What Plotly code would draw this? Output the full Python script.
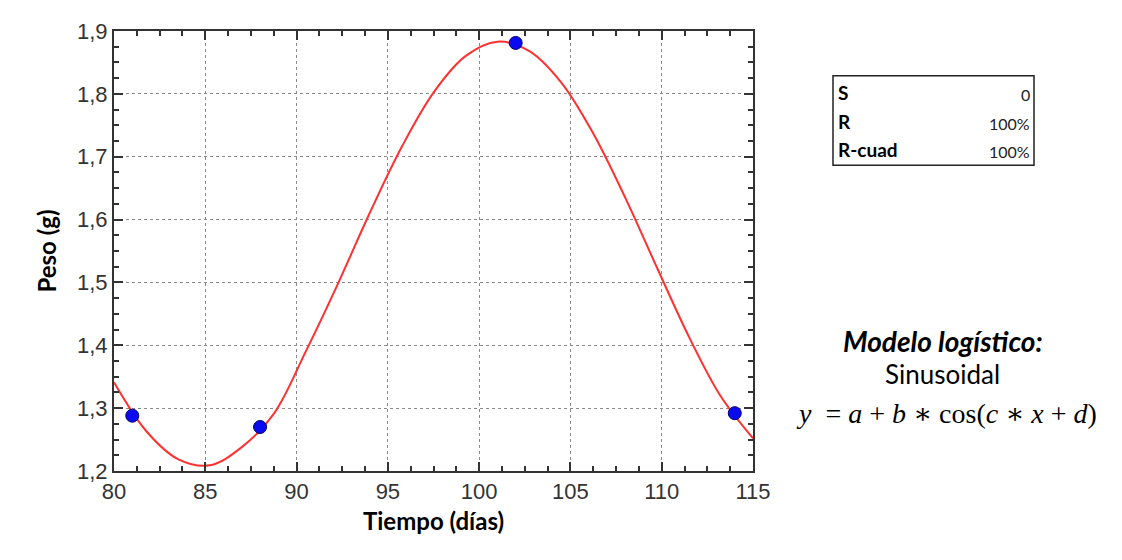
import plotly.graph_objects as go

# Observed data points
dias = [81, 88, 102, 114]
peso = [1.288, 1.270, 1.881, 1.292]

# Fitted sinusoidal curve
curva_x = [80, 81.75, 83.5, 85.25, 87, 88.75, 90.5, 92.25, 94, 95.75, 97.5,
           99.25, 101, 102.75, 104.5, 106.25, 108, 109.75, 111.5, 113.25, 115]
curva_y = [1.341, 1.264, 1.219, 1.209, 1.238, 1.291, 1.390, 1.497, 1.610, 1.715, 1.802,
           1.860, 1.883, 1.868, 1.818, 1.737, 1.635, 1.523, 1.413, 1.318, 1.252]

x_ticks = [80, 85, 90, 95, 100, 105, 110, 115]
y_ticks = [1.2, 1.3, 1.4, 1.5, 1.6, 1.7, 1.8, 1.9]

tabla_etiquetas = ["S", "R", "R-cuad"]
tabla_valores = ["0", "100%", "100%"]

OFF = 8  # body margin of the page
L, R, T, B = 114, 753, 19, 471
W, H = 1122 - OFF, 560 - OFF

def px(xp):
    return (xp - L) / (R - L)

def py(yp):
    return (B - yp) / (B - T)

fig = go.Figure()
fig.add_trace(go.Scatter(x=curva_x, y=curva_y, mode="lines",
                         line=dict(color="#ff3030", width=2, shape="spline", smoothing=1.0), hoverinfo="skip"))
fig.add_trace(go.Scatter(x=dias, y=peso, mode="markers",
                         marker=dict(color="#0a0aee", size=13, line=dict(color="#00006e", width=1))))

axis_common = dict(
    showline=True, linecolor="#333333", linewidth=2, mirror="ticks",
    ticks="inside", ticklen=9, tickwidth=1.5, tickcolor="#333333",
    showgrid=True, gridcolor="#8a8a8a", griddash="dot", gridwidth=1,
    zeroline=False,
    tickfont=dict(family="Liberation Sans Narrow, Liberation Sans, Arial", size=22, color="#333333"),
)

title_font = dict(family="Lato, Open Sans", size=24, color="#000")
fig.update_xaxes(range=[80, 115], tickvals=x_ticks, **axis_common,
                 minor=dict(ticks="inside", ticklen=5, dtick=1.25, tick0=80, tickcolor="#333333", showgrid=False),
                 title=dict(text="<b>Tiempo (días)</b>", font=title_font, standoff=10))
fig.update_yaxes(range=[1.2, 1.9], tickvals=y_ticks, tickformat=".1f", **axis_common,
                 minor=dict(ticks="inside", ticklen=5, dtick=0.025, tick0=1.2, tickcolor="#333333", showgrid=False),
                 title=dict(text="<b>Peso (g)</b>", font=title_font, standoff=14))

# Table box
fig.add_shape(type="rect", xref="paper", yref="paper", x0=px(833), x1=px(1034), y0=py(157), y1=py(65),
              line=dict(color="#222", width=1.5), fillcolor="white")
row_y = [82, 112, 141]
for lab, val, yy in zip(tabla_etiquetas, tabla_valores, row_y):
    fig.add_annotation(xref="paper", yref="paper", x=px(836), y=py(yy), text="<b>" + lab + "</b>",
                       showarrow=False, xanchor="left", yanchor="middle",
                       font=dict(family="Lato, Open Sans", size=19, color="#000"))
    fig.add_annotation(xref="paper", yref="paper", x=px(1032), y=py(yy + 2), text=val,
                       showarrow=False, xanchor="right", yanchor="middle",
                       font=dict(family="Lato, Open Sans", size=16, color="#222"))

fig.add_annotation(xref="paper", yref="paper", x=px(943), y=py(337), text="<b><i>Modelo logístico:</i></b>",
                   showarrow=False, xanchor="center", yanchor="middle",
                   font=dict(family="Lato, Open Sans", size=28, color="#000"))
fig.add_annotation(xref="paper", yref="paper", x=px(942), y=py(371), text="Sinusoidal",
                   showarrow=False, xanchor="center", yanchor="middle",
                   font=dict(family="Lato, Open Sans", size=26, color="#000"))
fig.add_annotation(xref="paper", yref="paper", x=px(946), y=py(412),
                   text="<i>y</i>  = <i>a</i> + <i>b</i> ∗ cos(<i>c</i> ∗ <i>x</i> + <i>d</i>)",
                   showarrow=False, xanchor="center", yanchor="middle",
                   font=dict(family="Liberation Serif, DejaVu Serif", size=28, color="#000"))

fig.update_layout(
    width=W, height=H, separators=",.",
    margin=dict(l=L - OFF, r=W - (R - OFF), t=T - OFF, b=H - (B - OFF)),
    plot_bgcolor="white", paper_bgcolor="white",
    showlegend=False,
)

fig.write_html("out.html")
